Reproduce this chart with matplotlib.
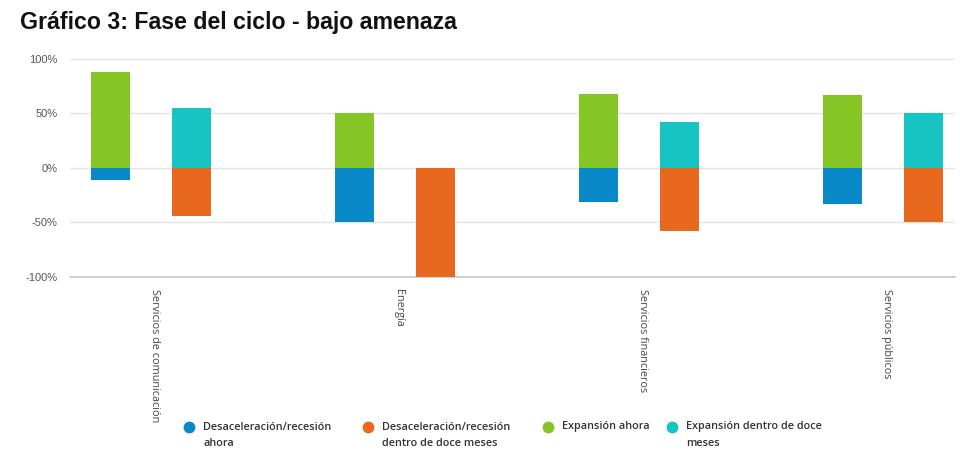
import numpy as np
import matplotlib.pyplot as plt
from matplotlib.lines import Line2D

# data (percent)
categories = ['Servicios de comunicación', 'Energía',
              'Servicios financieros', 'Servicios públicos']
dec_now = [-11, -50, -31, -33]
dec_12m = [-44, -100, -58, -50]
exp_now = [88, 50, 68, 67]
exp_12m = [55, 0, 42, 50]

labels = ['Desaceleración/recesión\nahora',
          'Desaceleración/recesión\ndentro de doce meses',
          'Expansión ahora',
          'Expansión dentro de doce\nmeses']
colors = ['#0a89c9', '#e8691d', '#85c626', '#17c4c4']

fig = plt.figure(figsize=(9.6, 4.71), dpi=100)
ax = fig.add_axes([70 / 960, 1 - 276.7 / 471, 885 / 960, 217.7 / 471])

x = np.arange(len(categories))
off = 0.166
w = 0.16

ax.bar(x - off, dec_now, w, color=colors[0], zorder=3)
ax.bar(x + off, dec_12m, w, color=colors[1], zorder=3)
ax.bar(x - off, exp_now, w, color=colors[2], zorder=3)
ax.bar(x + off, exp_12m, w, color=colors[3], zorder=3)

ax.set_xlim(-0.332, 3.295)
ax.set_ylim(-100, 100)
ax.set_yticks([-100, -50, 0, 50, 100])
ax.set_yticklabels(['-100%', '-50%', '0%', '50%', '100%'])
ax.grid(axis='y', color='#e3e3e3', linewidth=1, zorder=0)
for s in ['top', 'right', 'left']:
    ax.spines[s].set_visible(False)
ax.spines['bottom'].set_color('#c8c8c8')
ax.spines['bottom'].set_linewidth(1.2)
ax.tick_params(axis='y', length=0, pad=9, labelsize=8, labelcolor='#555555')
ax.tick_params(axis='x', length=0, pad=9)
ax.set_xticks(x + 0.015)
ax.set_xticklabels(categories, rotation=-90, fontsize=7.8, color='#444444',
                   family='Open Sans', va='top', ha='center')
for t in ax.get_yticklabels():
    t.set_family('Liberation Sans')

fig.text(20 / 960, 1 - 22 / 471, 'Gráfico 3: Fase del ciclo - bajo amenaza',
         fontsize=16.7, fontweight='bold', family='Liberation Sans',
         color='#111111', va='center', ha='left')

# legend drawn in figure coordinates
marker_x = [189, 368, 548, 672]
for mx, lab, c in zip(marker_x, labels, colors):
    fig.add_artist(Line2D([mx / 960], [1 - 427 / 471], marker='o',
                          markersize=7.5, color=c, linestyle='none',
                          transform=fig.transFigure))
    fig.text((mx + 14) / 960, 1 - 427 / 471, lab.split('\n')[0], fontsize=7.8,
             family='Open Sans', fontweight='semibold', color='#333333',
             va='center', ha='left')
    if '\n' in lab:
        fig.text((mx + 14) / 960, 1 - 444 / 471, lab.split('\n')[1],
                 fontsize=7.8, family='Open Sans', fontweight='semibold',
                 color='#333333', va='center', ha='left')

fig.savefig('out.png', dpi=100)
